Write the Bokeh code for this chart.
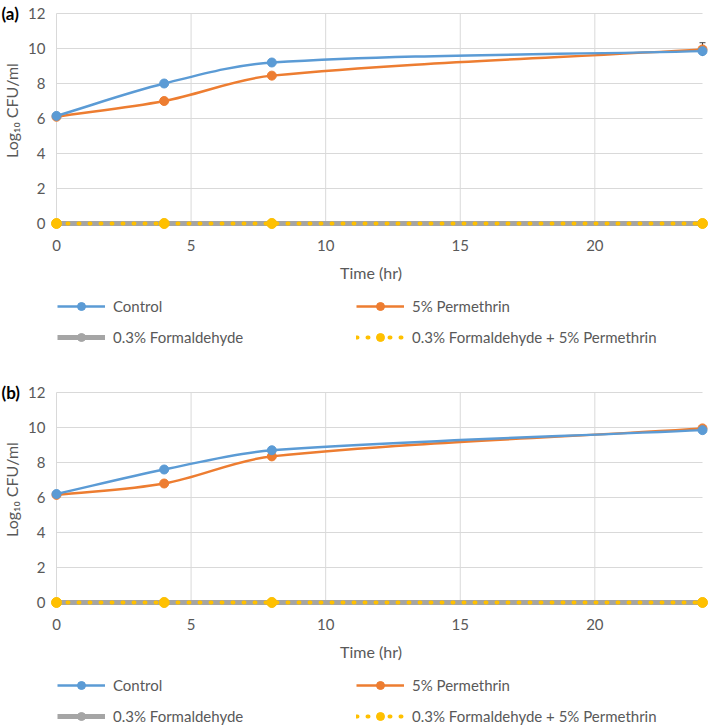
import math
from bokeh.plotting import figure
from bokeh.models import (ColumnDataSource, Range1d, Legend, LegendItem, Whisker,
                          TeeHead)
from bokeh.layouts import column
from bokeh.embed import file_html
from bokeh.resources import INLINE
from bokeh.core.properties import value

# ---------------- data ----------------
time_hr = [0, 4, 8, 24]
x_ticks = [0, 5, 10, 15, 20]
y_ticks = [0, 2, 4, 6, 8, 10, 12]
x_tick_labels = ["0", "5", "10", "15", "20"]
y_tick_labels = ["0", "2", "4", "6", "8", "10", "12"]

a_control = [6.15, 8.0, 9.2, 9.85]
a_permethrin = [6.1, 7.0, 8.45, 9.95]
a_formaldehyde = [0.0, 0.0, 0.0, 0.0]
a_form_perm = [0.0, 0.0, 0.0, 0.0]
a_permethrin_err = [0.0, 0.0, 0.0, 0.38]

b_control = [6.2, 7.6, 8.7, 9.85]
b_permethrin = [6.15, 6.8, 8.35, 9.95]
b_formaldehyde = [0.0, 0.0, 0.0, 0.0]
b_form_perm = [0.0, 0.0, 0.0, 0.0]
b_permethrin_err = [0.0, 0.0, 0.0, 0.0]

series_names = ["Control", "5% Permethrin", "0.3% Formaldehyde",
                "0.3% Formaldehyde + 5% Permethrin"]
panel_tags = ["(a)", "(b)"]
x_title = "Time (hr)"
y_title = "Log\u2081\u2080 CFU/ml"

# ---------------- style ----------------
BLUE = "#5B9BD5"
ORANGE = "#ED7D31"
GRAY = "#A5A5A5"
YELLOW = "#FFC000"
GRID = "#D9D9D9"
TXT = "#595959"
FONT = "Lato"

W = 709
X0_PX = 56            # pixel column of x = 0
Y0_PX = 223           # pixel row of y = 0 (from the top of each panel)
SX = 646 / 24.0       # px per x unit
SY = 17.5             # px per y unit


def px_x(dx):
    """horizontal pixel offset -> data units"""
    return dx / SX


def px_y(dy):
    """vertical pixel offset (downwards) -> data units"""
    return -dy / SY


def smooth(xs, ys):
    """Bezier control points for an Excel-like smoothed line."""
    P = [(x * SX, y * SY) for x, y in zip(xs, ys)]
    n = len(P)

    def dist(a, b):
        return math.hypot(b[0] - a[0], b[1] - a[1])

    def tangent(i):
        if i == 0:
            a, b = P[0], P[1]
            L = dist(a, b)
        elif i == n - 1:
            a, b = P[n - 2], P[n - 1]
            L = dist(a, b)
        else:
            a, b = P[i - 1], P[i + 1]
            L = dist(P[i - 1], P[i]) + dist(P[i], P[i + 1])
        return ((b[0] - a[0]) / L, (b[1] - a[1]) / L)

    T = [tangent(i) for i in range(n)]
    c = {k: [] for k in ("x0", "y0", "x1", "y1", "cx0", "cy0", "cx1", "cy1")}
    for i in range(n - 1):
        L = dist(P[i], P[i + 1]) / 3.0
        c["x0"].append(xs[i]); c["y0"].append(ys[i])
        c["x1"].append(xs[i + 1]); c["y1"].append(ys[i + 1])
        c["cx0"].append((P[i][0] + T[i][0] * L) / SX)
        c["cy0"].append((P[i][1] + T[i][1] * L) / SY)
        c["cx1"].append((P[i + 1][0] - T[i + 1][0] * L) / SX)
        c["cy1"].append((P[i + 1][1] - T[i + 1][1] * L) / SY)
    return ColumnDataSource(c)


def make_panel(tag, control, perm, form, formperm, perm_err, height):
    x_lo = -X0_PX / SX
    x_hi = (W - X0_PX) / SX
    y_lo = (Y0_PX - height) / SY
    y_hi = Y0_PX / SY
    p = figure(width=W, height=height, output_backend="svg",
               toolbar_location=None,
               x_range=Range1d(x_lo, x_hi), y_range=Range1d(y_lo, y_hi),
               x_axis_location=None, y_axis_location=None,
               min_border=0, min_border_left=0, min_border_right=0,
               min_border_top=0, min_border_bottom=0)
    p.outline_line_color = None
    p.grid.visible = False
    p.background_fill_color = "white"
    p.border_fill_color = "white"

    xmax = time_hr[-1]
    ymax = y_ticks[-1]
    # grid lines over the data area
    p.segment(x0=[0] * len(y_ticks), y0=y_ticks, x1=[xmax] * len(y_ticks),
              y1=y_ticks, line_color=GRID, line_width=1)
    p.segment(x0=x_ticks, y0=[0] * len(x_ticks), x1=x_ticks,
              y1=[ymax] * len(x_ticks), line_color=GRID, line_width=1)

    # tick labels, placed through the data scales
    p.text(x=[px_x(-11)] * len(y_ticks), y=y_ticks, text=y_tick_labels,
           text_font=value(FONT), text_font_size="15px", text_color=TXT,
           text_align="right", text_baseline="middle")
    p.text(x=x_ticks, y=[px_y(22)] * len(x_ticks), text=x_tick_labels,
           text_font=value(FONT), text_font_size="15px", text_color=TXT,
           text_align="center", text_baseline="middle")
    # axis titles
    p.text(x=[px_x(314.5)], y=[px_y(49)], text=[x_title],
           text_font=value(FONT), text_font_size="16px", text_color=TXT,
           text_align="center", text_baseline="middle")
    p.text(x=[px_x(-45)], y=[ymax / 2 + px_y(-8)], text=[y_title],
           angle=math.pi / 2,
           text_font=value(FONT), text_font_size="16px", text_color=TXT,
           text_align="center", text_baseline="middle")
    # panel tag
    p.text(x=[px_x(-55)], y=[ymax], text=[tag],
           text_font=value(FONT), text_font_size="17px",
           text_font_style="bold", text_color="black",
           text_align="left", text_baseline="middle")

    # error bar (only where an error was read)
    ex = [t for t, e in zip(time_hr, perm_err) if e > 0]
    eu = [v + e for v, e in zip(perm, perm_err) if e > 0]
    el = [v - e for v, e in zip(perm, perm_err) if e > 0]
    if ex:
        wsrc = ColumnDataSource(dict(x=ex, upper=eu, lower=el))
        w = Whisker(base="x", upper="upper", lower="lower", source=wsrc,
                    line_color="#404040", line_width=1,
                    upper_head=TeeHead(size=6, line_color="#404040",
                                       line_width=1),
                    lower_head=None)
        p.add_layout(w)

    # formaldehyde (thick gray)
    r_fl = p.line(time_hr, form, line_color=GRAY, line_width=5)
    r_fs = p.scatter(time_hr, form, size=9, fill_color=GRAY, line_color=GRAY)
    # formaldehyde + permethrin (yellow dots)
    r_yl = p.line(time_hr, formperm, line_color=YELLOW, line_width=4,
                  line_dash="1 10", line_cap="round")
    r_ys = p.scatter(time_hr, formperm, size=10, fill_color=YELLOW,
                     line_color=YELLOW)
    # smoothed lines
    r_pl = p.bezier(x0="x0", y0="y0", x1="x1", y1="y1", cx0="cx0", cy0="cy0",
                    cx1="cx1", cy1="cy1", source=smooth(time_hr, perm),
                    line_color=ORANGE, line_width=2.5)
    r_ps = p.scatter(time_hr, perm, size=9, fill_color=ORANGE,
                     line_color=ORANGE)
    r_cl = p.bezier(x0="x0", y0="y0", x1="x1", y1="y1", cx0="cx0", cy0="cy0",
                    cx1="cx1", cy1="cy1", source=smooth(time_hr, control),
                    line_color=BLUE, line_width=2.5)
    r_cs = p.scatter(time_hr, control, size=9, fill_color=BLUE,
                     line_color=BLUE)

    items = [
        LegendItem(label=series_names[0], renderers=[r_cl, r_cs]),
        LegendItem(label=series_names[1], renderers=[r_pl, r_ps]),
        LegendItem(label=series_names[2], renderers=[r_fl, r_fs]),
        LegendItem(label=series_names[3], renderers=[r_yl, r_ys]),
    ]
    # legend top 296 px below the panel top; legend is 51 px tall
    leg = Legend(items=items, location=(57, height - 296 - 51),
                 orientation="horizontal", ncols=2, margin=0, padding=0,
                 spacing=11, glyph_width=48, glyph_height=20,
                 label_height=20, label_standoff=8, label_width=232,
                 label_text_font=FONT, label_text_font_size="15px",
                 label_text_color=TXT, border_line_color=None,
                 background_fill_alpha=0)
    p.add_layout(leg, "center")
    return p


HA = 379
HB = 347
pa = make_panel(panel_tags[0], a_control, a_permethrin, a_formaldehyde,
                a_form_perm, a_permethrin_err, HA)
pb = make_panel(panel_tags[1], b_control, b_permethrin, b_formaldehyde,
                b_form_perm, b_permethrin_err, HB)

layout = column(pa, pb, spacing=0)
open("out.html", "w").write(file_html(layout, INLINE))
